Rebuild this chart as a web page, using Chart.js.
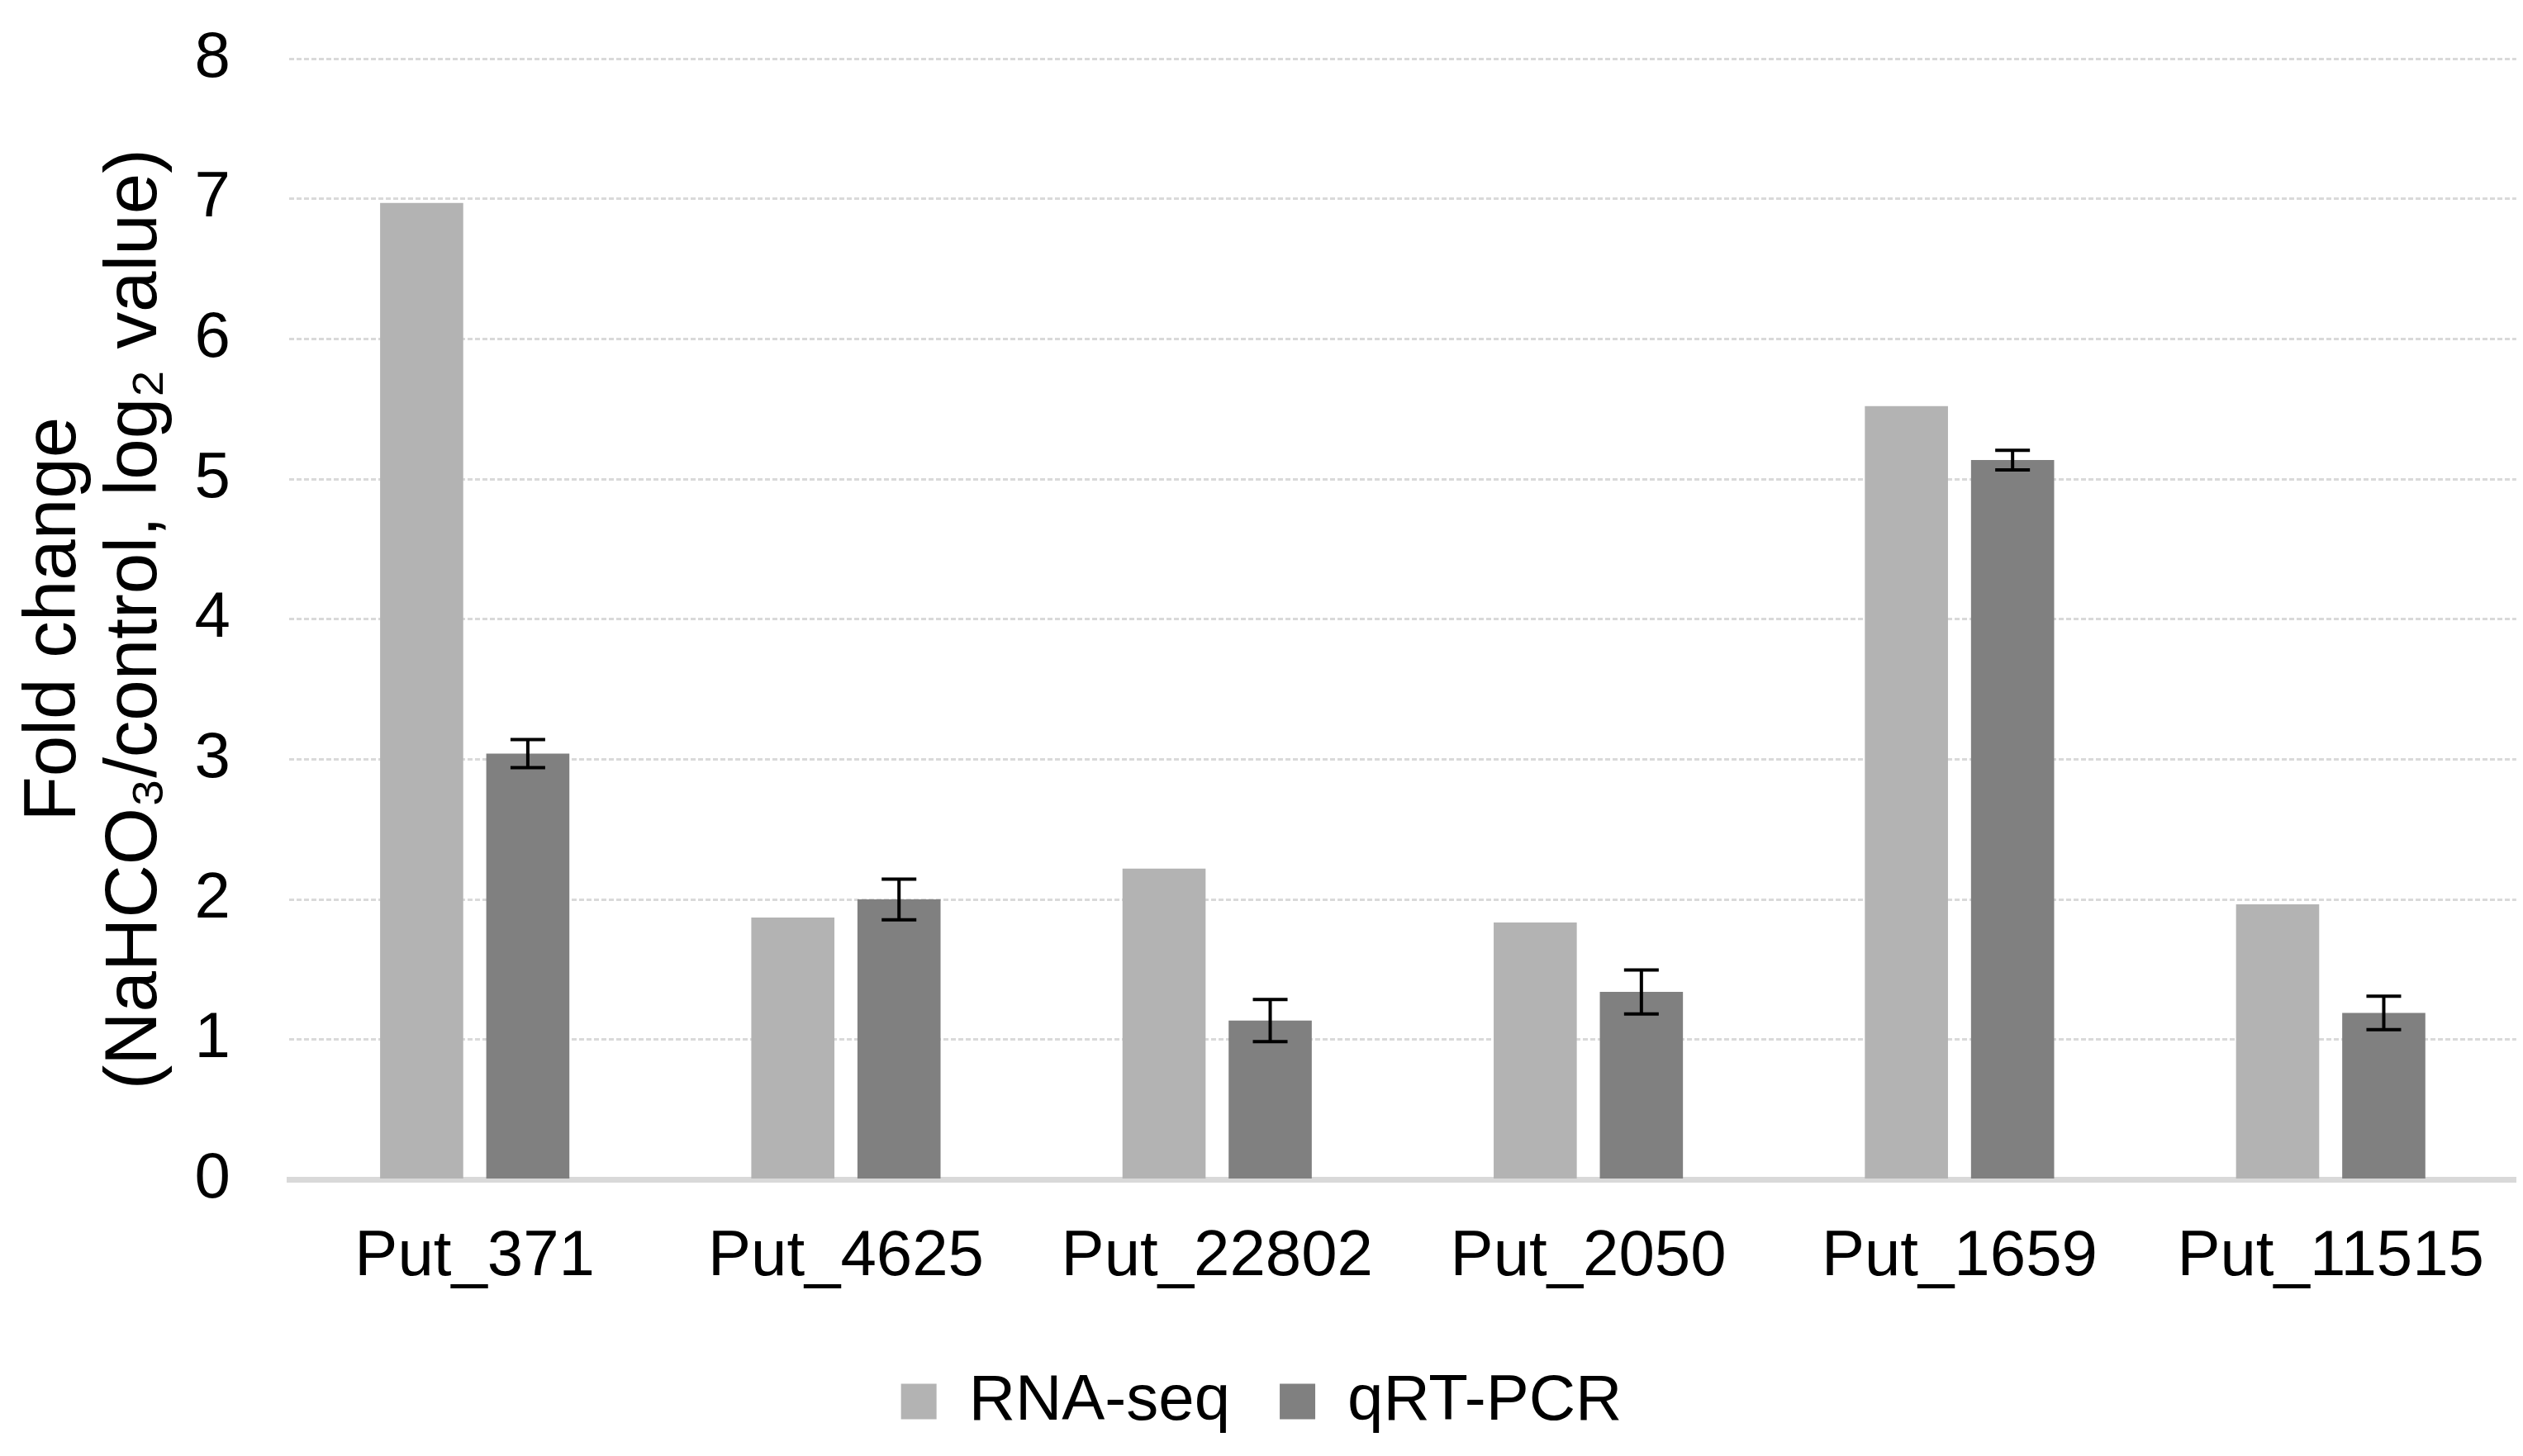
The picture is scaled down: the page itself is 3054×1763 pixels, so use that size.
<!DOCTYPE html>
<html>
<head>
<meta charset="utf-8">
<script src="https://cdn.jsdelivr.net/npm/chart.js@4.4.1/dist/chart.umd.min.js"></script>
<style>
    html, body { margin: 0; padding: 0; background: #ffffff; }
    #wrap { width: 3054px; height: 1763px; position: relative; }
</style>
</head>
<body>
<div id="wrap"><canvas id="foldChart"></canvas></div>
<script>
const genes = ['Put_371', 'Put_4625', 'Put_22802', 'Put_2050', 'Put_1659', 'Put_11515'];
const rnaSeq = [6.97, 1.87, 2.22, 1.835, 5.52, 1.965];
const qrtPcr = [3.04, 2.0, 1.135, 1.34, 5.135, 1.19];
const qrtPcrErr = [0.1, 0.145, 0.15, 0.157, 0.07, 0.12];
const yTicks = [0, 1, 2, 3, 4, 5, 6, 7, 8];

const fontName = '"Liberation Sans", Arial, sans-serif';

// black error bars on the qRT-PCR bars
const errorBars = {
    id: 'errorBars',
    afterDatasetsDraw(chart) {
        const ctx = chart.ctx;
        const y = chart.scales.y;
        const meta = chart.getDatasetMeta(1);
        ctx.save();
        ctx.strokeStyle = '#000000';
        ctx.lineWidth = 4;
        meta.data.forEach((bar, i) => {
            let top = y.getPixelForValue(qrtPcr[i] + qrtPcrErr[i]);
            let bottom = y.getPixelForValue(qrtPcr[i] - qrtPcrErr[i]);
            let cap = 21;
            ctx.beginPath();
            ctx.moveTo(bar.x, top);
            ctx.lineTo(bar.x, bottom);
            ctx.moveTo(bar.x - cap, top);
            ctx.lineTo(bar.x + cap, top);
            ctx.moveTo(bar.x - cap, bottom);
            ctx.lineTo(bar.x + cap, bottom);
            ctx.stroke();
        });
        ctx.restore();
    }
};

let ctx = document.getElementById('foldChart').getContext('2d');
let myChart = new Chart(ctx, {
    type: 'bar',
    data: {
        labels: genes,
        datasets: [
            {
                label: 'RNA-seq',
                data: rnaSeq,
                backgroundColor: '#b3b3b3',
                borderWidth: 0,
                categoryPercentage: 0.572,
                barPercentage: 0.783
            },
            {
                label: 'qRT-PCR',
                data: qrtPcr,
                backgroundColor: '#808080',
                borderWidth: 0,
                categoryPercentage: 0.572,
                barPercentage: 0.783
            }
        ]
    },
    options: {
        responsive: true,
        maintainAspectRatio: false,
        animation: false,
        layout: {
            padding: { top: 71, right: 0, bottom: 17, left: 0 }
        },
        scales: {
            x: {
                z: 1,
                afterFit: (scale) => { scale.height = scale.height - 18; },
                grid: { display: false, drawTicks: false },
                border: { display: true, color: '#d9d9d9', width: 7 },
                ticks: {
                    color: '#000000',
                    padding: 47,
                    maxRotation: 0,
                    font: { family: fontName, size: 78 }
                }
            },
            y: {
                min: 0,
                max: 8,
                afterFit: (scale) => { scale.width = 350; },
                afterBuildTicks: (scale) => {
                    scale.ticks = yTicks.map((v) => ({ value: v }));
                },
                grid: {
                    color: '#d9d9d9',
                    lineWidth: 3,
                    drawTicks: true,
                    tickLength: 71,
                    tickColor: 'rgba(0,0,0,0)'
                },
                border: { display: false, dash: [6, 3] },
                ticks: {
                    color: '#000000',
                    padding: 0,
                    font: { family: fontName, size: 78 }
                },
                title: {
                    display: true,
                    text: ['Fold change', '(NaHCO\u2083/control, log\u2082 value)'],
                    color: '#000000',
                    padding: { top: 18, bottom: 0 },
                    font: { family: fontName, size: 89, lineHeight: 1.1 }
                }
            }
        },
        plugins: {
            legend: {
                position: 'bottom',
                labels: {
                    color: '#000000',
                    boxWidth: 43,
                    boxHeight: 43,
                    padding: 60,
                    font: { family: fontName, size: 78 }
                }
            },
            tooltip: { enabled: false }
        }
    },
    plugins: [errorBars]
});
</script>
</body>
</html>
